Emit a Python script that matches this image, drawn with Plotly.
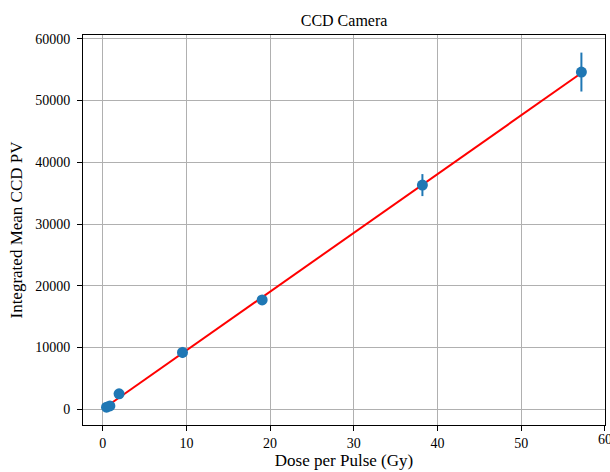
import numpy as np
import plotly.graph_objects as go

dose = [0.45, 0.85, 1.95, 9.53, 19.05, 38.2, 57.2]
pv = [350, 550, 2500, 9200, 17700, 36300, 54600]
pv_err = [200, 200, 300, 900, 600, 1780, 3150]
x_ticks = [0, 10, 20, 30, 40, 50, 60]
y_ticks = [0, 10000, 20000, 30000, 40000, 50000, 60000]

coef = np.polyfit(dose, pv, 1)
fit_x = [dose[0], dose[-1]]
fit_y = [float(np.polyval(coef, v)) for v in fit_x]

font = "Liberation Serif, Times New Roman, serif"

fig = go.Figure()
fig.add_trace(go.Scatter(x=fit_x, y=fit_y, mode="lines",
                         line=dict(color="#ff0000", width=2), showlegend=False))
fig.add_trace(go.Scatter(x=dose, y=pv, mode="markers",
                         marker=dict(color="#1f77b4", size=11),
                         error_y=dict(type="data", array=pv_err, visible=True,
                                      color="#1f77b4", thickness=2, width=0),
                         showlegend=False))

axis_common = dict(showline=True, linecolor="black", linewidth=1, mirror=True,
                   showgrid=True, gridcolor="#b0b0b0", gridwidth=1,
                   ticks="outside", ticklen=5, tickwidth=1, tickcolor="black",
                   zeroline=False, automargin=False,
                   tickfont=dict(family=font, size=14, color="black"))

fig.update_layout(
    width=610, height=472,
    margin=dict(l=83, r=5, t=35, b=47),
    paper_bgcolor="white", plot_bgcolor="white",
    font=dict(family=font, color="black"),
    title=dict(text="CCD Camera", x=0.564, xanchor="center",
               y=1 - 20 / 472, yanchor="middle",
               font=dict(family=font, size=16, color="black")),
    xaxis=dict(range=[-2.36, 60.02], tickvals=x_ticks,
               title=dict(text="Dose per Pulse (Gy)", standoff=4,
                          font=dict(family=font, size=17, color="black")),
               **axis_common),
    yaxis=dict(range=[-2540, 60600], tickvals=y_ticks,
               tickformat="d", ticklabelstandoff=4,
               title=dict(text="Integrated Mean CCD PV", standoff=8,
                          font=dict(family=font, size=17, color="black")),
               **axis_common),
)

# the last x tick label, which sits at the right edge and is partly clipped
fig.add_annotation(x=x_ticks[-1], xref="x", y=0, yref="paper", yanchor="top",
                   yshift=-5, text=str(x_ticks[-1]), showarrow=False,
                   font=dict(family=font, size=14, color="black"))

fig.write_html("out.html", config={"displayModeBar": False},
               post_script="document.body.style.margin='0';document.body.style.overflow='hidden';")
